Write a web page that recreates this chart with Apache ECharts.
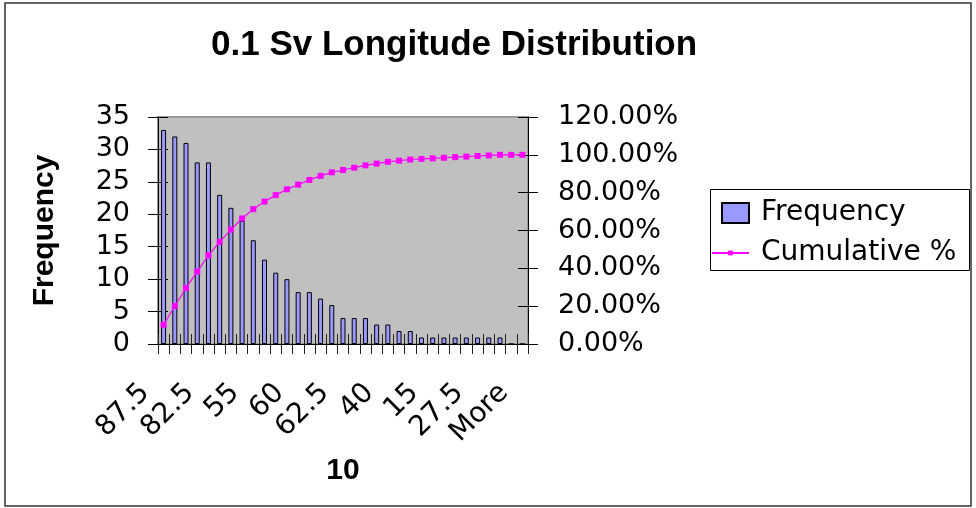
<!DOCTYPE html>
<html>
<head>
<meta charset="utf-8">
<script src="https://cdn.jsdelivr.net/npm/echarts@6/dist/echarts.min.js"></script>
<style>
html,body{margin:0;padding:0;background:#fff;}
#chart{width:976px;height:508px;}
</style>
</head>
<body>
<div id="chart"></div>
<script>
// Data
const categories = ['87.5','','','','82.5','','','','55','','','','60','','','','62.5','','','','40','','','','15','','','','27.5','','','','More'];
const frequency = [33,32,31,28,28,23,21,19,16,13,11,10,8,8,7,6,4,4,4,3,3,2,2,1,1,1,1,1,1,1,1,0,0];
const cumulativePct = [10.19,20.06,29.63,38.27,46.91,54.01,60.49,66.36,71.30,75.31,78.70,81.79,84.26,86.73,88.89,90.74,91.98,93.21,94.44,95.37,96.30,96.91,97.53,97.84,98.15,98.46,98.77,99.07,99.38,99.69,100,100,100];
const leftTicks = {min:0, max:35, interval:5};
const rightTicks = {min:0, max:120, interval:20};

const LBL = 'DejaVu Sans';
const BOLD = 'Liberation Sans';

const chart = echarts.init(document.getElementById('chart'), null, {renderer:'canvas'});
const noShow = {show:false};
chart.setOption({
  animation:false,
  backgroundColor:'#fff',
  title:{
    text:'0.1 Sv Longitude Distribution',
    left:211, top:28, padding:0,
    textStyle:{fontFamily:BOLD, fontWeight:'bold', fontSize:35, color:'#000'}
  },
  legend:[
    {data:[{name:'Frequency', icon:'rect'}], orient:'vertical', left:721, top:199, padding:0,
     itemWidth:27, itemHeight:20,
     textStyle:{fontFamily:LBL, fontSize:28, color:'#000', lineHeight:28, padding:[0,0,0,7]}},
    {data:[{name:'Cumulative %'}], orient:'vertical', left:711, top:239, padding:0,
     itemWidth:37, itemHeight:6,
     textStyle:{fontFamily:LBL, fontSize:28, color:'#000', lineHeight:28, padding:[0,0,0,7]}}
  ],
  graphic:[
    {type:'rect', shape:{x:5, y:3, width:966, height:503}, style:{fill:'none', stroke:'#333', lineWidth:1.5}, silent:true},
    {type:'rect', shape:{x:710.5, y:189.5, width:259, height:81}, style:{fill:'none', stroke:'#000', lineWidth:1}, silent:true}
  ],
  grid:{left:158, right:448, top:117, bottom:164, show:true, backgroundColor:'#C0C0C0', borderColor:'#999', borderWidth:2},
  xAxis:[
    {type:'category', data:categories, position:'bottom',
     axisLine:{lineStyle:{color:'#000', width:1}},
     axisTick:{show:true, interval:0, length:10, lineStyle:{color:'#222'}},
     axisLabel:{interval:3, rotate:45, margin:26, padding:[0,26,0,0], fontFamily:LBL, fontSize:28, color:'#000'},
     name:'10', nameLocation:'middle', nameGap:112,
     nameTextStyle:{fontFamily:BOLD, fontWeight:'bold', fontSize:30, color:'#000'},
     splitLine:noShow},
    {type:'category', data:categories, position:'bottom',
     axisLine:noShow, axisLabel:noShow, splitLine:noShow,
     axisTick:{show:true, inside:true, interval:0, length:10, lineStyle:{color:'#222'}}}
  ],
  yAxis:[
    {type:'value', position:'left', ...leftTicks,
     axisLine:{show:true, lineStyle:{color:'#000'}},
     axisTick:{show:true, length:10, lineStyle:{color:'#000'}},
     axisLabel:{margin:28, fontFamily:LBL, fontSize:27, color:'#000'},
     splitLine:noShow,
     name:'Frequency', nameLocation:'middle', nameGap:98,
     nameTextStyle:{fontFamily:BOLD, fontWeight:'bold', fontSize:30, color:'#000'}},
    {type:'value', position:'right', ...rightTicks,
     axisLine:{show:true, lineStyle:{color:'#000'}},
     axisTick:{show:true, length:10, lineStyle:{color:'#000'}},
     axisLabel:{margin:30, fontFamily:LBL, fontSize:27, color:'#000', formatter:v=>v.toFixed(2)+'%'},
     splitLine:noShow},
    {type:'value', position:'left', ...leftTicks,
     axisLine:noShow, axisLabel:noShow, splitLine:noShow,
     axisTick:{show:true, inside:true, length:10, lineStyle:{color:'#000'}}},
    {type:'value', position:'right', ...rightTicks,
     axisLine:noShow, axisLabel:noShow, splitLine:noShow,
     axisTick:{show:true, inside:true, length:10, lineStyle:{color:'#000'}}}
  ],
  series:[
    {name:'Frequency', type:'bar', data:frequency, xAxisIndex:0, yAxisIndex:0, barWidth:5,
     itemStyle:{color:'#9999FF', borderColor:'#000', borderWidth:1}},
    {name:'Cumulative %', type:'line', data:cumulativePct, xAxisIndex:0, yAxisIndex:1,
     symbol:'rect', symbolSize:6,
     lineStyle:{color:'#FF00FF', width:1.2}, itemStyle:{color:'#FF00FF'}}
  ]
});
</script>
</body>
</html>
